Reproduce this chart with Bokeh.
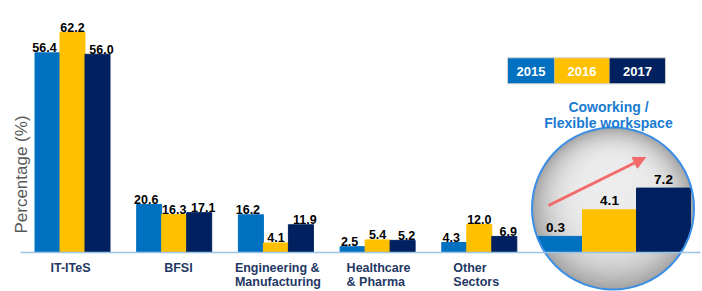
import numpy as np
from bokeh.plotting import figure
from bokeh.models import Range1d, ColumnDataSource, Arrow, NormalHead
from bokeh.core.properties import value
from bokeh.embed import file_html
from bokeh.resources import INLINE

# ---------------- data ----------------
sectors = ["IT-ITeS", "BFSI", "Engineering &\nManufacturing", "Healthcare\n& Pharma", "Other\nSectors"]
years = ["2015", "2016", "2017"]
share_2015 = [56.4, 20.6, 16.2, 2.5, 4.3]
share_2016 = [62.2, 16.3, 4.1, 5.4, 12.0]
share_2017 = [56.0, 17.1, 11.9, 5.2, 6.9]
coworking = [0.3, 4.1, 7.2]          # 2015, 2016, 2017
y_title = "Percentage (%)"
inset_title = ["Coworking /", "Flexible workspace"]

# ---------------- styles ----------------
colors = ["#0070C0", "#FFC000", "#002060"]
FONT = value("Liberation Sans")
W, H = 702, 291
BASE = 252
GROUP_PX = 101.7
BW = 25 / GROUP_PX
LABEL_DX = [-22, -10, -41, -31, -26]
VAL_DX = [-3, 0, 4]
CW_BASE = -2.0

p = figure(width=W, height=H, output_backend="svg", toolbar_location=None,
           x_range=Range1d(-72 / GROUP_PX, (W - 72) / GROUP_PX),
           y_range=Range1d(-(H - BASE) / 2.33, BASE / 2.33),
           x_axis_location=None, y_axis_location=None, min_border=0,
           outline_line_color=None, background_fill_color="white",
           border_fill_color="white")
p.grid.visible = False
p.extra_y_ranges = {"it": Range1d(-(H - BASE) / 3.54, BASE / 3.54),
                    "cw": Range1d(CW_BASE - (H - BASE) / 7.0, CW_BASE + BASE / 7.0),
                    "py": Range1d(H, 0)}
p.extra_x_ranges = {"cw": Range1d(-555 / 54, (W - 555) / 54),
                    "px": Range1d(0, W)}

# ---------------- main bars ----------------
idx = np.arange(len(sectors))
series = [share_2015, share_2016, share_2017]
for j, (vals, c) in enumerate(zip(series, colors)):
    xs = idx + (j - 1) * BW
    vals = np.array(vals)
    lbl_kw = dict(text_align="center", text_baseline="alphabetic", y_offset=-5,
                  x_offset=VAL_DX[j], text_font=FONT, text_font_style="bold",
                  text_font_size="12.5px", text_color="#000000")
    # IT-ITeS group drawn on its own (taller) scale, like the original
    p.vbar(x=xs[:1], top=vals[:1], bottom=0, width=BW, fill_color=c, line_color=c,
           y_range_name="it")
    p.vbar(x=xs[1:], top=vals[1:], bottom=0, width=BW, fill_color=c, line_color=c)
    p.text(x=xs[:1], y=vals[:1], text=[f"{v:.1f}" for v in vals[:1]],
           y_range_name="it", **lbl_kw)
    p.text(x=xs[1:], y=vals[1:], text=[f"{v:.1f}" for v in vals[1:]], **lbl_kw)

# ---------------- inset circle (shaded) ----------------
CX, CY, R = 612.5, 208, 81
N = 28
for k in range(N):
    t = k / (N - 1)
    r = R * (1 - 0.78 * t)
    cy = CY - 22 * t
    g = int(236 - 70 * (1 - t) ** 3)
    p.circle(x=[CX], y=[cy], radius=r, fill_color=f"#{g:02x}{g:02x}{g:02x}",
             line_color=None, x_range_name="px", y_range_name="py")

# inset bars
cw_idx = np.arange(len(years))
p.vbar(x=cw_idx, top=coworking, bottom=CW_BASE, width=1.0, fill_color=colors,
       line_color=colors, x_range_name="cw", y_range_name="cw")

# white mask outside the circle
ang = np.linspace(0, 2 * np.pi, 240)
hole_x = list(CX + (R + 0.5) * np.cos(ang))
hole_y = list(CY + (R + 0.5) * np.sin(ang))
outer_x = [522, W, W, 522]
outer_y = [126, 126, H, H]
p.multi_polygons(xs=[[[outer_x, hole_x]]], ys=[[[outer_y, hole_y]]],
                 fill_color="white", line_color=None,
                 x_range_name="px", y_range_name="py")
p.circle(x=[CX], y=[CY], radius=R, fill_color=None, line_color="#3a8ee6",
         line_width=2, x_range_name="px", y_range_name="py")

# inset value labels
p.text(x=cw_idx, y=coworking, text=[f"{v:.1f}" for v in coworking],
       x_range_name="cw", y_range_name="cw", text_align="center",
       text_baseline="alphabetic", y_offset=-9, text_font=FONT,
       text_font_style="bold", text_font_size="13.5px", text_color="#000000")

# baseline (x axis line)
p.segment(x0=[20], y0=[0], x1=[700], y1=[0], line_color="#9dc3e6",
          line_width=1.5, x_range_name="px")

# arrow
p.add_layout(Arrow(end=NormalHead(size=12, fill_color="#f26a6a", line_color="#f26a6a"),
                   x_start=548, y_start=205, x_end=645, y_end=157,
                   line_color="#f26a6a", line_width=3,
                   x_range_name="px", y_range_name="py"))

# ---------------- legend ----------------
leg_x = [530.5, 581.5, 637]
leg_w = [47, 55, 56]
p.rect(x=leg_x, y=[70.3] * 3, width=leg_w, height=26, fill_color=colors,
       line_color=None, x_range_name="px", y_range_name="py")
p.rect(x=[586], y=[70.3], width=158, height=26, fill_color=None,
       line_color="#d0d0d0", line_width=1, x_range_name="px", y_range_name="py")
p.text(x=leg_x, y=[71] * 3, text=years, x_range_name="px", y_range_name="py",
       text_align="center", text_baseline="middle", text_font=FONT,
       text_font_style="bold", text_font_size="13px", text_color="white")

# inset title
p.text(x=[608, 608], y=[106, 122], text=inset_title, x_range_name="px",
       y_range_name="py", text_align="center", text_baseline="middle",
       text_font=FONT, text_font_style="bold", text_font_size="14px",
       text_color="#1a7bd0")

# y label
p.text(x=[21], y=[174], text=[y_title], angle=np.pi / 2, x_range_name="px",
       y_range_name="py", text_align="center", text_baseline="middle",
       text_font=FONT, text_font_size="17px", text_color="#595959")

# category labels
cat_src = ColumnDataSource(dict(x=idx, y=[260] * len(sectors), text=sectors, dx=LABEL_DX))
p.text(x="x", y="y", text="text", x_offset="dx", source=cat_src, y_range_name="py",
       text_align="left", text_baseline="top", text_line_height=1.05,
       text_font=FONT, text_font_style="bold", text_font_size="12.5px",
       text_color="#1F3864")

open("out.html", "w").write(file_html(p, INLINE))
